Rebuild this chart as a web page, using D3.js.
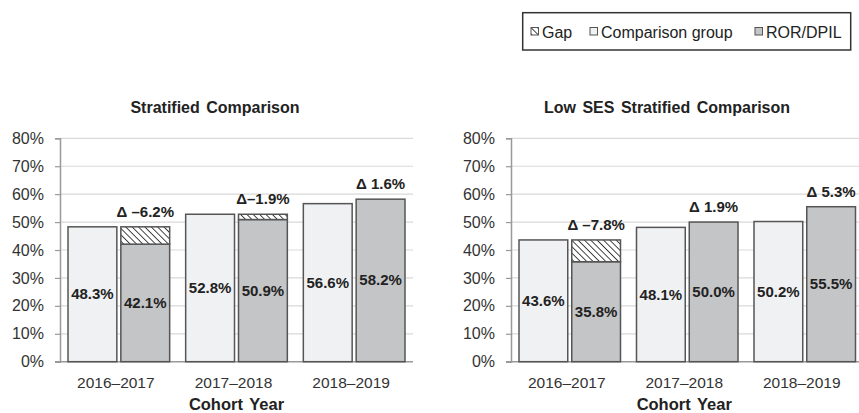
<!DOCTYPE html>
<html>
<head>
<meta charset="utf-8">
<script src="https://cdn.jsdelivr.net/npm/d3@7"></script>
<style>
  body { margin: 0; background: #fff; }
  svg { display: block; font-family: "Liberation Sans", Arial, sans-serif; }
</style>
</head>
<body>
<div id="chart"></div>
<script>
// data
const cohorts = ["2016\u20132017", "2017\u20132018", "2018\u20132019"];
const yTicks = [0, 10, 20, 30, 40, 50, 60, 70, 80];
const stratComparison = [48.3, 52.8, 56.6];
const stratRor = [42.1, 50.9, 58.2];
const stratDelta = ["\u0394 \u20136.2%", "\u0394\u20131.9%", "\u0394 1.6%"];
const lowSesComparison = [43.6, 48.1, 50.2];
const lowSesRor = [35.8, 50.0, 55.5];
const lowSesDelta = ["\u0394 \u20137.8%", "\u0394 1.9%", "\u0394 5.3%"];
const legendItems = ["Gap", "Comparison group", "ROR/DPIL"];

const width = 859, height = 413;
const compFill = "#f0f1f3", rorFill = "#c4c5c7", barStroke = "#555";

const svg = d3.select("#chart").append("svg")
  .attr("width", width)
  .attr("height", height);

// hatch for the gap
const defs = svg.append("defs");
const pat = defs.append("pattern")
  .attr("id", "hatch")
  .attr("patternUnits", "userSpaceOnUse")
  .attr("width", 4.5)
  .attr("height", 4.5)
  .attr("patternTransform", "rotate(-45)");
pat.append("rect").attr("width", 4.5).attr("height", 4.5).attr("fill", "#fff");
pat.append("line").attr("x1", 0).attr("y1", 0).attr("x2", 0).attr("y2", 4.5)
  .attr("stroke", "#333").attr("stroke-width", 1.8);

function drawPanel(opts) {
  const g = svg.append("g");
  const y = d3.scaleLinear().domain([0, 80]).range([361.7, 138.3]);
  const x = d3.scaleBand().domain(cohorts).range([opts.x0, opts.x1]);
  const pad = 8, gap = 4;
  const bw = (x.bandwidth() - 2 * pad - gap) / 2;

  // gridlines
  g.selectAll(".grid").data(yTicks.slice(1)).enter().append("line")
    .attr("x1", opts.x0).attr("x2", opts.x1)
    .attr("y1", d => y(d)).attr("y2", d => y(d))
    .attr("stroke", "#d9d9d9").attr("stroke-width", 1.2);

  // y axis
  const yAxis = d3.axisLeft(y).tickValues(yTicks).tickFormat(d => d + "%").tickSize(5).tickPadding(11);
  const ya = g.append("g").attr("transform", "translate(" + opts.x0 + ",0)").call(yAxis);
  ya.select(".domain").attr("stroke", "#999").attr("stroke-width", 1.5);
  ya.selectAll(".tick line").attr("stroke", "#999").attr("stroke-width", 1.2);
  ya.selectAll(".tick text").attr("fill", "#333").style("font-size", "16px")
    .style("font-family", "Liberation Sans, Arial, sans-serif");

  // x axis base
  g.append("line").attr("x1", opts.x0 - 5).attr("x2", opts.x1)
    .attr("y1", y(0)).attr("y2", y(0)).attr("stroke", "#999").attr("stroke-width", 1.5);

  // x labels
  g.selectAll(".xl").data(cohorts).enter().append("text")
    .attr("x", d => x(d) + x.bandwidth() / 2 - 3)
    .attr("y", 388)
    .attr("text-anchor", "middle")
    .attr("fill", "#333")
    .style("font-size", "15.5px")
    .text(d => d);

  // comparison bars
  g.selectAll(".comp").data(opts.comp).enter().append("rect")
    .attr("x", (d, i) => x(cohorts[i]) + pad)
    .attr("y", d => y(d))
    .attr("width", bw)
    .attr("height", d => y(0) - y(d))
    .attr("fill", compFill).attr("stroke", barStroke).attr("stroke-width", 1.5);

  // ROR bars
  g.selectAll(".ror").data(opts.ror).enter().append("rect")
    .attr("x", (d, i) => x(cohorts[i]) + pad + bw + gap)
    .attr("y", d => y(d))
    .attr("width", bw)
    .attr("height", d => y(0) - y(d))
    .attr("fill", rorFill).attr("stroke", barStroke).attr("stroke-width", 1.5);

  // gap segments where ROR below comparison
  opts.ror.forEach((d, i) => {
    const c = opts.comp[i];
    if (d < c) {
      g.append("rect")
        .attr("x", x(cohorts[i]) + pad + bw + gap)
        .attr("y", y(c))
        .attr("width", bw)
        .attr("height", y(d) - y(c))
        .attr("fill", "url(#hatch)").attr("stroke", barStroke).attr("stroke-width", 1.5);
    }
  });

  // value labels
  g.selectAll(".cl").data(opts.comp).enter().append("text")
    .attr("x", (d, i) => x(cohorts[i]) + pad + bw / 2)
    .attr("y", d => y(d / 2) + 5)
    .attr("text-anchor", "middle")
    .attr("fill", "#222").style("font-weight", "bold").style("font-size", "15px")
    .text(d => d.toFixed(1) + "%");
  g.selectAll(".rl").data(opts.ror).enter().append("text")
    .attr("x", (d, i) => x(cohorts[i]) + pad + bw + gap + bw / 2)
    .attr("y", d => y(d / 2) + 5)
    .attr("text-anchor", "middle")
    .attr("fill", "#222").style("font-weight", "bold").style("font-size", "15px")
    .text(d => d.toFixed(1) + "%");

  // delta labels above the taller of the two
  g.selectAll(".dl").data(opts.delta).enter().append("text")
    .attr("x", (d, i) => x(cohorts[i]) + pad + bw + gap + bw / 2)
    .attr("y", (d, i) => y(Math.max(opts.ror[i], opts.comp[i])) - 10)
    .attr("text-anchor", "middle")
    .attr("fill", "#222").style("font-weight", "bold").style("font-size", "15px")
    .text(d => d);

  // title
  g.append("text")
    .attr("x", opts.titleX).attr("y", 113)
    .attr("text-anchor", "middle")
    .attr("fill", "#222").style("font-weight", "bold").style("font-size", "16px")
    .style("word-spacing", "2px")
    .text(opts.title);

  // axis title
  g.append("text")
    .attr("x", (opts.x0 + opts.x1) / 2 - (opts.x1 > width ? 3 : 0)).attr("y", 410)
    .attr("text-anchor", "middle")
    .attr("fill", "#222").style("font-weight", "bold").style("font-size", "16.5px")
    .style("word-spacing", "2px")
    .text("Cohort Year");
}

drawPanel({ x0: 60, x1: 413, comp: stratComparison, ror: stratRor, delta: stratDelta,
  title: "Stratified Comparison", titleX: 215 });
drawPanel({ x0: 511, x1: 863.5, comp: lowSesComparison, ror: lowSesRor, delta: lowSesDelta,
  title: "Low SES Stratified Comparison", titleX: 667 });

// legend
const lg = svg.append("g");
lg.append("rect").attr("x", 522.7).attr("y", 12.7).attr("width", 328).attr("height", 37.3)
  .attr("fill", "#fff").attr("stroke", "#333").attr("stroke-width", 1.5);
const legendFills = ["url(#hatch)", compFill, rorFill];
const legendX = [531, 590, 755];
legendItems.forEach((t, i) => {
  lg.append("rect").attr("x", legendX[i]).attr("y", 27.5).attr("width", 7.5).attr("height", 7.5)
    .attr("fill", legendFills[i]).attr("stroke", "#555").attr("stroke-width", 1);
  lg.append("text").attr("x", legendX[i] + 11).attr("y", 37.5)
    .attr("fill", "#222").style("font-size", "16px").text(t);
});
</script>
</body>
</html>
